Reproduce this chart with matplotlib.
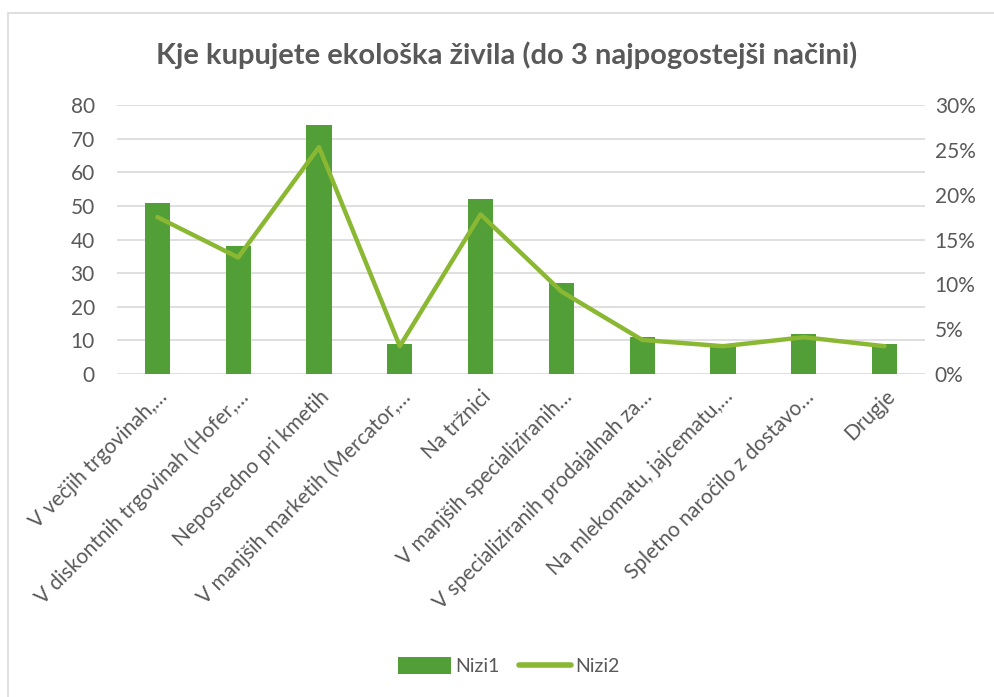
import numpy as np
import matplotlib.pyplot as plt
from matplotlib.patches import Rectangle
from matplotlib.ticker import PercentFormatter

plt.rcParams['font.family'] = ['Lato', 'DejaVu Sans']

# Data
categories = [
    "V večjih trgovinah,…",
    "V diskontnih trgovinah (Hofer,…",
    "Neposredno pri kmetih",
    "V manjših marketih (Mercator,…",
    "Na tržnici",
    "V manjših specializiranih…",
    "V specializiranih prodajalnah za…",
    "Na mlekomatu, jajcematu,…",
    "Spletno naročilo z dostavo…",
    "Drugje",
]
nizi1 = [51, 38, 74, 9, 52, 27, 11, 9, 12, 9]
nizi2 = [0.175, 0.13, 0.253, 0.031, 0.178, 0.092, 0.038, 0.031, 0.041, 0.031]

text_col = '#595959'
bar_col = '#529E37'
line_col = '#8AB833'
grid_col = '#D9D9D9'

fig = plt.figure(figsize=(9.94, 6.97), dpi=100)
ax = fig.add_axes([117 / 994, 1 - 374 / 697, (925 - 117) / 994, (374 - 105) / 697])
ax2 = ax.twinx()

x = np.arange(len(categories))
ax.bar(x, nizi1, width=0.31, color=bar_col, label='Nizi1', zorder=2)
ax2.plot(x, nizi2, color=line_col, lw=3.2, solid_capstyle='round',
         solid_joinstyle='round', label='Nizi2', zorder=3)

ax.set_xlim(-0.5, len(categories) - 0.5)
ax.set_ylim(0, 80)
ax.set_yticks(range(0, 81, 10))
ax2.set_ylim(0, 0.30)
ax2.set_yticks(np.arange(0, 0.301, 0.05))
ax2.yaxis.set_major_formatter(PercentFormatter(1.0, decimals=0))

ax.yaxis.grid(True, color=grid_col, lw=1.2, zorder=0)
ax.set_axisbelow(True)
for a in (ax, ax2):
    for s in a.spines.values():
        s.set_visible(False)
    a.tick_params(length=0, labelsize=15, labelcolor=text_col)
ax.tick_params(axis='y', pad=16)
ax2.tick_params(axis='y', pad=7)

ax.set_xticks(x)
ax.set_xticklabels(categories, rotation=45, ha='right', va='top',
                   rotation_mode='anchor', fontsize=15, color=text_col)
ax.tick_params(axis='x', pad=9)

fig.text(0.51, 1 - 55 / 697, 'Kje kupujete ekološka živila (do 3 najpogostejši načini)',
         ha='center', va='center', fontsize=21, fontweight='bold', color=text_col)

# legend
h1, l1 = ax.get_legend_handles_labels()
h2, l2 = ax2.get_legend_handles_labels()
leg = fig.legend(h1 + h2, l1 + l2, loc='center', bbox_to_anchor=(0.512, 1 - 666 / 697),
                 ncol=2, frameon=False, fontsize=14, labelcolor=text_col,
                 handlelength=2.7, handleheight=1.0, handletextpad=0.2, columnspacing=1.0)
leg.get_lines()[0].set_linewidth(4)

# chart border
fig.patches.append(Rectangle((8 / 994, -0.01), 1.0, 1 - 13 / 697 + 0.01,
                             transform=fig.transFigure, fill=False,
                             edgecolor='#D9D9D9', lw=1.2))

fig.savefig('out.png', dpi=100, facecolor='white')
